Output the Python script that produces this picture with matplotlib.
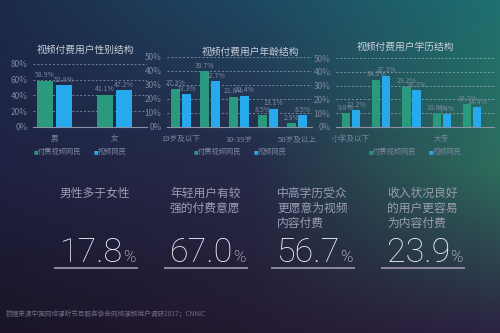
import numpy as np
import matplotlib
matplotlib.use("Agg")
import matplotlib.pyplot as plt
from matplotlib.colors import to_rgb

plt.rcParams['font.family'] = ['Noto Sans CJK SC', 'DejaVu Sans']

# ---------------- data ----------------
series_names = ["付费视频网民", "视频网民"]

gender_cats = ["男", "女"]
gender_paid = [58.9, 41.1]
gender_users = [52.8, 47.2]

age_cats = ["19岁及以下", "20-29岁", "30-39岁", "40-49岁", "50岁及以上"]
age_paid = [27.3, 39.7, 21.6, 8.5, 2.9]
age_users = [23.3, 32.7, 22.4, 13.1, 8.5]

edu_cats = ["小学及以下", "初中", "高中/中专/技校", "大专", "大学本科及以上"]
edu_paid = [9.8, 34.3, 29.2, 10.0, 16.7]
edu_users = [12.2, 37.3, 26.7, 9.4, 14.4]

chart_titles = ["视频付费用户性别结构", "视频付费用户年龄结构", "视频付费用户学历结构"]

findings = ["男性多于女性", "年轻用户有较\n强的付费意愿", "中高学历受众\n更愿意为视频\n内容付费", "收入状况良好\n的用户更容易\n为内容付费"]
big_numbers = ["17.8", "67.0", "56.7", "23.9"]
source_text = "数据来源中国网络视听节目服务协会网络视频用户调研2017；CNNIC"

# ---------------- style ----------------
W, H = 500, 333
C_PAID = "#2a9a7e"
C_USER = "#27a9ee"
C_TEXT = "#c9cfdb"
C_DIM = "#7c86a0"

fig = plt.figure(figsize=(W / 100, H / 100), dpi=100)

# background gradient
bg = fig.add_axes([0, 0, 1, 1])
xs = np.array([0, 250, 500])
ys = np.array([0, 166, 333])
ctrl = np.array([
    [to_rgb("#1c2a4a"), to_rgb("#1e4862"), to_rgb("#1e7070")],
    [to_rgb("#1f2242"), to_rgb("#262a48"), to_rgb("#2d6e5c")],
    [to_rgb("#1a1426"), to_rgb("#241a32"), to_rgb("#2c2242")],
])
gx = np.arange(W)
gy = np.arange(H)
rows = np.zeros((3, W, 3))
for i in range(3):
    for c in range(3):
        rows[i, :, c] = np.interp(gx, xs, ctrl[i, :, c])
img = np.zeros((H, W, 3))
for c in range(3):
    for j in range(W):
        img[:, j, c] = np.interp(gy, ys, rows[:, j, c])
bg.imshow(img, extent=[0, W, H, 0], aspect="auto", zorder=-10)
bg.set_xlim(0, W)
bg.set_ylim(H, 0)
bg.axis("off")


def fx(x):
    return x / W


def fy(y):
    return 1 - y / H


def make_axes(left, right, top, bottom):
    return fig.add_axes([fx(left), fy(bottom), (right - left) / W, (bottom - top) / H])


def draw_chart(ax, cats, paid, users, ymax, ystep, xlim, width, off, shown_labels, title, title_xy, legend_xy):
    x = np.arange(len(cats))
    ax.set_facecolor("none")
    ax.bar(x - off, paid, width, color=C_PAID, zorder=3)
    ax.bar(x + off, users, width, color=C_USER, zorder=3)
    for xi, v in zip(x - off, paid):
        ax.text(xi, v + ymax * 0.02, f"{v:.1f}%", ha="center", va="bottom", fontsize=5, color=C_DIM, zorder=4)
    for xi, v in zip(x + off, users):
        ax.text(xi, v + ymax * 0.02, f"{v:.1f}%", ha="center", va="bottom", fontsize=5, color=C_DIM, zorder=4)
    ax.set_ylim(0, ymax)
    ax.set_xlim(*xlim)
    yt = np.arange(0, ymax + 0.1, ystep)
    ax.set_yticks(yt)
    ax.set_yticklabels([f"{int(t)}%" for t in yt], fontsize=6, color=C_DIM)
    for t in yt[1:]:
        ax.axhline(t, color="#c0c8d8", lw=0.7, ls=(0, (2, 2)), alpha=0.55, zorder=1)
    ax.set_xticks([x[i] for i in shown_labels])
    ax.set_xticklabels([cats[i] for i in shown_labels], fontsize=5.5, color=C_DIM)
    ax.tick_params(axis="x", length=0, pad=6)
    ax.tick_params(axis="y", length=0, pad=4)
    for s in ["top", "right", "left"]:
        ax.spines[s].set_visible(False)
    ax.spines["bottom"].set_color("#8a93aa")
    ax.spines["bottom"].set_linewidth(0.8)
    fig.text(fx(title_xy[0]), fy(title_xy[1]), title, ha="center", va="center", fontsize=7, color=C_TEXT)
    lx, ly = legend_xy
    fig.text(fx(lx), fy(ly), "■", fontsize=3.5, color=C_PAID, ha="left", va="center", family="DejaVu Sans")
    fig.text(fx(lx + 4), fy(ly), series_names[0], fontsize=5.2, color=C_DIM, ha="left", va="center")
    fig.text(fx(lx + 60), fy(ly), "■", fontsize=3.5, color=C_USER, ha="left", va="center", family="DejaVu Sans")
    fig.text(fx(lx + 64), fy(ly), series_names[1], fontsize=5.2, color=C_DIM, ha="left", va="center")


ax1 = make_axes(33, 147, 64, 127)
draw_chart(ax1, gender_cats, gender_paid, gender_users, 80, 20, (-0.36, 1.54), 0.27, 0.158,
           [0, 1], chart_titles[0], (85, 50), (34, 152))

ax2 = make_axes(167, 312, 57, 127)
draw_chart(ax2, age_cats, age_paid, age_users, 50, 10, (-0.48, 4.52), 0.31, 0.19,
           [0, 2, 4], chart_titles[1], (250, 52), (194, 152))

ax3 = make_axes(336, 494, 58, 127)
draw_chart(ax3, edu_cats, edu_paid, edu_users, 50, 10, (-0.5, 4.73), 0.27, 0.165,
           [0, 3], chart_titles[2], (405, 47), (369, 152))

# findings
lefts = [60, 170, 277, 387]
for lx, txt, num in zip(lefts, findings, big_numbers):
    fig.text(fx(lx), fy(187), txt, ha="left", va="top", fontsize=8.5, color="#9a9db2",
             linespacing=1.2)
    t = fig.text(fx(lx), fy(262), num, ha="left", va="baseline", fontsize=24.5, color="#eef0f6",
                 family=["Roboto", "DejaVu Sans"], fontweight="light")
    fig.canvas.draw()
    bb = t.get_window_extent()
    fig.text(bb.x1 / W, fy(262), "%", ha="left", va="baseline", fontsize=12, color="#eef0f6",
             family=["Roboto", "DejaVu Sans"], fontweight="light")
    fig.add_artist(plt.Line2D([fx(lx - 5), fx(lx + 77)], [fy(267.5), fy(267.5)], color="#8c8aa2", lw=1.4))

fig.text(fx(6), fy(314), source_text, ha="left", va="center", fontsize=4.8, color="#6e6a86")

fig.savefig("out.png", dpi=100)
